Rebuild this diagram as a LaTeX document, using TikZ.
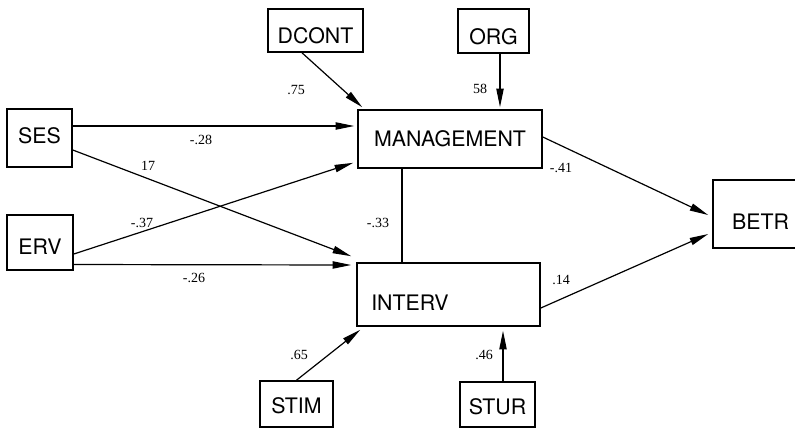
\documentclass[tikz,border=0pt]{standalone}
\usepackage{fontspec}
\setmainfont{Liberation Serif}
\newfontfamily\boxfont{TeX Gyre Heros}
\usetikzlibrary{arrows.meta}
\begin{document}
\begin{tikzpicture}[x=0.75pt,y=-0.75pt,
  varbox/.style={draw, line width=1.2pt, inner sep=0pt},
  boxlbl/.style={font=\boxfont\fontsize{16}{18}\selectfont, inner sep=0pt},
  arr/.style={line width=0.9pt, -{Triangle[length=14pt,width=5.5pt]}},
  link/.style={line width=0.9pt},
  coef/.style={font=\fontsize{10.5}{12}\selectfont, inner sep=0pt}]
\useasboundingbox (0,0) rectangle (795,430);
\clip (0,0) rectangle (795,430);
% boxes
\node[varbox, minimum width=71.25pt, minimum height=32.25pt,
  label={[boxlbl,yshift=-3.75pt]center:DCONT}] (dcont) at (315.5,30.5) {};
\node[varbox, minimum width=53.25pt, minimum height=33pt,
  label={[boxlbl,yshift=-4pt]center:ORG}] (org) at (493.5,31) {};
\node[varbox, minimum width=138pt, minimum height=43.5pt,
  label={[boxlbl]center:MANAGEMENT}] (mgmt) at (450,139) {};
\node[varbox, minimum width=48.75pt, minimum height=43.5pt,
  label={[boxlbl,yshift=1.5pt]center:SES}] (ses) at (39.5,138) {};
\node[varbox, minimum width=49.5pt, minimum height=41.25pt,
  label={[boxlbl,yshift=-3pt]center:ERV}] (erv) at (40,242.5) {};
\node[varbox, minimum width=137.25pt, minimum height=47.25pt,
  label={[boxlbl,xshift=-28.9pt,yshift=-6.4pt]center:INTERV}] (interv) at (448.5,294.5) {};
\node[varbox, minimum width=54.75pt, minimum height=34.5pt,
  label={[boxlbl,yshift=-1.5pt]center:STIM}] (stim) at (296.5,404) {};
\node[varbox, minimum width=56.25pt, minimum height=33.75pt,
  label={[boxlbl,yshift=-1.5pt]center:STUR}] (stur) at (497.5,404.5) {};
\node[varbox, minimum width=71.25pt, minimum height=51pt,
  label={[boxlbl,yshift=-6pt]center:BETR}] (betr) at (760.5,214) {};
% connectors
\draw[arr] ([shift={(0,-12)}]ses.east) -- ([shift={(-3,-13)}]mgmt.west);
\draw[arr] ([shift={(0,12)}]ses.east) -- ([shift={(-5,-6)}]interv.north west);
\draw[arr] ([shift={(0,11.5)}]erv.east) -- ([shift={(-4,-6)}]mgmt.south west);
\draw[arr] ([shift={(0,22)}]erv.east) -- ([shift={(-5,-29.5)}]interv.west);
\draw[arr] ([shift={(-13.5,0)}]dcont.south) -- ([shift={(5,-2)}]mgmt.north west);
\draw[arr] ([shift={(6.5,0)}]org.south) -- ([shift={(50,-2)}]mgmt.north);
\draw[link] ([shift={(-48,0)}]mgmt.south) -- ([shift={(-46.5,0)}]interv.north);
\draw[arr] ([shift={(0,-2)}]mgmt.east) -- ([shift={(-4,1)}]betr.west);
\draw[arr] ([shift={(0,13.5)}]interv.east) -- ([shift={(-4,20)}]betr.west);
\draw[arr] (stim.north) -- ([shift={(4,3)}]interv.south west);
\draw[arr] ([shift={(5.5,0)}]stur.north) -- ([shift={(54.5,4)}]interv.south);
% coefficients
\node[coef] (c75) at (296,90) {.75};
\node[coef] (c58) at (480,89) {58};
\node[coef] (c28) at (201,140) {-.28};
\node[coef] (c17) at (148,166) {17};
\node[coef] (c37) at (142,223) {-.37};
\node[coef] (c26) at (194,278) {-.26};
\node[coef] (c33) at (378,223) {-.33};
\node[coef] (c41) at (561,168) {-.41};
\node[coef] (c14) at (561,280) {.14};
\node[coef] (c65) at (299,355) {.65};
\node[coef] (c46) at (484,355) {.46};
\end{tikzpicture}
\end{document}
